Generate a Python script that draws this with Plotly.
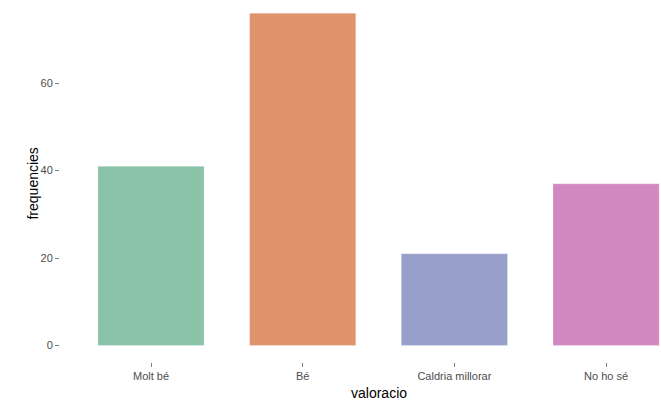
import plotly.graph_objects as go

categories = ["Molt bé", "Bé", "Caldria millorar", "No ho sé"]
frequencies = [41, 76, 21, 37]
colors = ["#8BC3A8", "#E0926B", "#989FCA", "#D188BF"]
y_ticks = [0, 20, 40, 60]

fig = go.Figure(go.Bar(
    x=categories, y=frequencies, width=0.7,
    marker=dict(color=colors, line=dict(color="rgba(255,255,255,0.5)", width=0.5)),
    showlegend=False,
))

tickfont = dict(family="Liberation Sans, Arial, sans-serif", size=11, color="#4D4D4D")
fig.update_layout(
    width=661, height=404,
    margin=dict(l=60, r=0, t=0, b=42, pad=0),
    paper_bgcolor="white", plot_bgcolor="white",
    font=dict(family="Liberation Sans, Arial, sans-serif"),
    xaxis=dict(type="category", range=[-0.6, 3.362], showgrid=False, zeroline=False,
               showline=False, ticks="outside", ticklen=4, tickwidth=1, tickcolor="#7F7F7F",
               tickfont=tickfont),
    yaxis=dict(range=[-3.8, 79.04], tickvals=y_ticks, showgrid=False, zeroline=False,
               showline=False, ticks="outside", ticklen=4, tickwidth=1, tickcolor="#7F7F7F",
               tickfont=tickfont),
    annotations=[
        dict(text="valoracio", xref="paper", yref="paper", x=0.53, y=0, yshift=-31,
             xanchor="center", yanchor="middle", showarrow=False,
             font=dict(size=14, color="black")),
        dict(text="frequencies", xref="paper", yref="paper", x=0, xshift=-27, y=0.493,
             xanchor="center", yanchor="middle", textangle=-90, showarrow=False,
             font=dict(size=14, color="black")),
    ],
)

fig.write_html("out.html", config={"displayModeBar": False},
               post_script="document.body.style.margin='0';document.body.style.overflow='hidden';")
